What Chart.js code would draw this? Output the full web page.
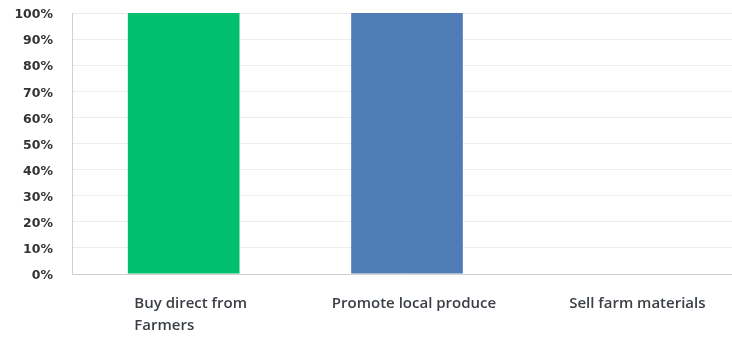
<!DOCTYPE html>
<html>
<head>
<meta charset="utf-8">
<script src="https://cdn.jsdelivr.net/npm/chart.js@4/dist/chart.umd.min.js"></script>
<style>
html,body{margin:0;padding:0;background:#fff;overflow:hidden;width:732px;height:337px;}
#wrap{width:742px;height:337px;}
</style>
</head>
<body>
<div id="wrap"><canvas id="c" width="742" height="337"></canvas></div>
<script>
const categories = [["Buy direct from", "Farmers"], ["Promote local produce"], ["Sell farm materials"]];
const values = [100, 100, 0];
const barColors = ["#00bf6f", "#507cb6", "#a0a0a0"];
const yTicks = [0, 10, 20, 30, 40, 50, 60, 70, 80, 90, 100];

const labelPlugin = {
  id: 'catLabels',
  afterDraw(chart) {
    const ctx = chart.ctx;
    const xs = chart.scales.x;
    ctx.save();
    ctx.font = '600 15px "Open Sans"';
    ctx.fillStyle = '#3a3f45';
    ctx.textBaseline = 'middle';
    ctx.textAlign = 'left';
    categories.forEach((lines, i) => {
      const cx = xs.getPixelForValue(i) + 7;
      const w = Math.max(...lines.map(l => ctx.measureText(l).width));
      const left = cx - w / 2;
      lines.forEach((l, j) => {
        ctx.fillText(l, left, xs.top + 30 + j * 22);
      });
    });
    ctx.restore();
  }
};

new Chart(document.getElementById('c'), {
  type: 'bar',
  data: {
    labels: categories.map(c => c.join(' ')),
    datasets: [{
      data: values,
      backgroundColor: barColors,
      borderWidth: 0,
      barPercentage: 0.5,
      categoryPercentage: 1.0
    }]
  },
  options: {
    responsive: false,
    animation: false,
    layout: { padding: { top: 13, left: 0, right: 0, bottom: 0 } },
    plugins: { legend: { display: false }, tooltip: { enabled: false } },
    scales: {
      x: {
        grid: { display: false, drawTicks: false },
        border: { color: '#d0d0d0', width: 1 },
        ticks: { display: false },
        afterFit(s) { s.height = 63; }
      },
      y: {
        min: 0, max: 100,
        afterBuildTicks(s) { s.ticks = yTicks.map(v => ({ value: v })); },
        grid: { color: '#ececec', drawTicks: false },
        border: { color: '#d0d0d0', width: 1 },
        ticks: {
          padding: 19,
          labelOffset: 2,
          color: '#333',
          font: { family: 'DejaVu Sans', weight: 'bold', size: 12.5 },
          callback: v => v + '%'
        },
        afterFit(s) { s.width = 72; s.paddingTop = 0; s.paddingBottom = 0; }
      }
    }
  },
  plugins: [labelPlugin]
});
</script>
</body>
</html>
